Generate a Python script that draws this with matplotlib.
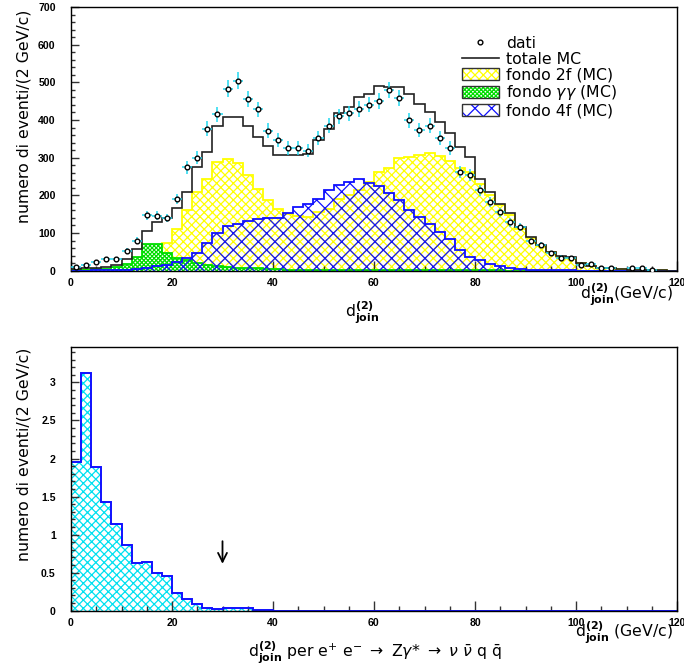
import numpy as np
import matplotlib
matplotlib.use("Agg")
import matplotlib.pyplot as plt
from matplotlib.patches import Patch
from matplotlib.lines import Line2D
from matplotlib.legend_handler import HandlerTuple
from matplotlib.ticker import MultipleLocator

# bins of 2 GeV/c from 0 to 120
edges = np.arange(0, 122, 2)

dati = [11, 15, 23, 30, 32, 53, 80, 147, 146, 140,
        191, 274, 300, 377, 415, 483, 504, 456, 428, 372,
        347, 325, 325, 319, 353, 385, 410, 418, 429, 441,
        451, 480, 458, 399, 374, 385, 353, 326, 263, 253,
        214, 183, 155, 128, 115, 79, 68, 46, 35, 34,
        14, 17, 8, 8, 0, 8, 6, 1, 0, 0]

totale_mc = [4, 7, 8, 10, 16, 30, 58, 106, 130, 140,
             166, 208, 275, 316, 383, 407, 408, 385, 356, 330,
             308, 306, 306, 310, 346, 377, 419, 434, 460, 469,
             490, 488, 488, 469, 443, 421, 394, 365, 328, 302,
             244, 209, 178, 152, 115, 90, 68, 50, 38, 36,
             21, 12, 8, 6, 4, 3, 2, 1, 1, 0]

fondo_2f = [1, 2, 2, 3, 4, 8, 15, 30, 50, 74,
            112, 160, 209, 243, 289, 297, 285, 253, 218, 187,
            165, 150, 145, 143, 155, 165, 190, 200, 215, 235,
            263, 272, 300, 302, 306, 312, 304, 292, 273, 262,
            231, 200, 174, 147, 112, 88, 65, 49, 37, 35,
            20, 13, 8, 6, 4, 3, 2, 1, 1, 0]

fondo_gg = [2, 3, 4, 5, 11, 18, 37, 72, 72, 48,
            33, 28, 21, 16, 12, 10, 8, 7, 6, 5,
            4, 3, 3, 3, 2, 2, 2, 2, 2, 2,
            2, 1, 1, 1, 1, 1, 1, 1, 1, 1,
            1, 1, 1, 0, 0, 0, 0, 0, 0, 0,
            0, 0, 0, 0, 0, 0, 0, 0, 0, 0]

fondo_4f = [0, 0, 1, 1, 2, 3, 5, 8, 12, 15,
            24, 33, 48, 74, 100, 118, 125, 132, 137, 140,
            140, 153, 168, 178, 191, 213, 227, 235, 244, 233,
            224, 205, 187, 162, 143, 124, 103, 83, 55, 36,
            28, 18, 13, 8, 5, 3, 2, 2, 1, 1,
            0, 0, 0, 0, 0, 0, 0, 0, 0, 0]

# signal e+e- -> Z gamma* -> nu nubar q qbar
segnale = [1.95, 3.13, 1.89, 1.43, 1.14, 0.86, 0.63, 0.64, 0.50, 0.46,
           0.23, 0.16, 0.085, 0.03, 0.02, 0.03, 0.03, 0.03, 0.01, 0.005] + [0.0] * 40
taglio = 30.0

YELLOW = "#ffff00"
GREEN = "#00dd00"
BLUE = "#1010ff"
CYAN = "#00e0f0"
ERRC = "#20d8f0"

plt.rcParams["hatch.linewidth"] = 0.9
plt.rcParams["font.family"] = "DejaVu Sans"

fig = plt.figure(figsize=(6.84, 6.70), dpi=100)
W, H = 684.0, 670.0
ax1 = fig.add_axes([71 / W, 1 - 270.7 / H, 606 / W, 263.7 / H])
ax2 = fig.add_axes([71 / W, 1 - 610.7 / H, 606 / W, 264 / H])

# --- top panel: data vs MC ---
ax1.stairs(fondo_2f, edges, fill=True, facecolor="white", edgecolor=YELLOW,
           hatch="xxxx", linewidth=0, zorder=1)
ax1.stairs(fondo_2f, edges, color=YELLOW, linewidth=1.3, zorder=1.1)
ax1.stairs(fondo_gg, edges, fill=True, facecolor="white", edgecolor=GREEN,
           hatch="xxxxxxxx", linewidth=0, zorder=2)
ax1.stairs(fondo_gg, edges, color=GREEN, linewidth=1.3, zorder=2.1)
ax1.stairs(fondo_4f, edges, fill=True, facecolor="none", edgecolor=BLUE,
           hatch="xx", linewidth=0, zorder=3)
ax1.stairs(fondo_4f, edges, color=BLUE, linewidth=1.3, zorder=3.1)
ax1.stairs(totale_mc, edges, color="#222222", linewidth=1.2, zorder=4)

centers = 0.5 * (edges[:-1] + edges[1:])
dati_arr = np.array(dati, dtype=float)
sel = dati_arr > 0
ax1.errorbar(centers[sel], dati_arr[sel], xerr=1.0, yerr=np.sqrt(dati_arr[sel]),
             fmt="o", ms=3.4, mfc="white", mec="black", mew=1.0,
             ecolor=ERRC, elinewidth=1.1, capsize=0, zorder=5)

ax1.set_xlim(0, 120)
ax1.set_ylim(0, 700)
ax1.yaxis.set_major_locator(MultipleLocator(100))
ax1.yaxis.set_minor_locator(MultipleLocator(20))

box = dict(fill=False, edgecolor="#333333", lw=1.0)
handles = [
    Line2D([], [], marker="o", ls="none", ms=3.4, mfc="white", mec="black", mew=1.0),
    Line2D([], [], color="#222222", lw=1.2),
    (Patch(facecolor="white", edgecolor=YELLOW, hatch="xxxx", lw=0), Patch(**box)),
    (Patch(facecolor="white", edgecolor=GREEN, hatch="xxxxxxxx", lw=0), Patch(**box)),
    (Patch(facecolor="white", edgecolor=BLUE, hatch="xx", lw=0), Patch(**box)),
]
labels = ["dati", "totale MC", "fondo 2f (MC)", r"fondo $\gamma\gamma$ (MC)", "fondo 4f (MC)"]
ax1.legend(handles, labels, handler_map={tuple: HandlerTuple(ndivide=1, pad=0)},
           loc="upper left", bbox_to_anchor=(462 / W, 1 - 36 / H),
           bbox_transform=fig.transFigure, frameon=False, fontsize=11.3,
           borderpad=0, borderaxespad=0, labelspacing=0.05,
           handlelength=2.35, handleheight=0.8, handletextpad=0.45)

# --- bottom panel: signal ---
ax2.stairs(segnale, edges, fill=True, facecolor="white", edgecolor=CYAN,
           hatch="xxxx", linewidth=0, zorder=1)
ax2.stairs(segnale, edges, color=BLUE, linewidth=1.4, zorder=2)
ax2.annotate("", xy=(taglio, 0.58), xytext=(taglio, 0.95),
             arrowprops=dict(arrowstyle="->", color="black", lw=1.3,
                             mutation_scale=16))
ax2.set_xlim(0, 120)
ax2.set_ylim(0, 3.47)
ax2.yaxis.set_major_locator(MultipleLocator(0.5))
ax2.yaxis.set_minor_locator(MultipleLocator(0.1))
ax2.set_yticks([0, 0.5, 1, 1.5, 2, 2.5, 3])
ax2.set_yticklabels(["0", "0.5", "1", "1.5", "2", "2.5", "3"])

for ax in (ax1, ax2):
    ax.xaxis.set_major_locator(MultipleLocator(20))
    ax.xaxis.set_minor_locator(MultipleLocator(5))
    ax.tick_params(which="both", direction="in", top=False, right=False,
                   width=1.0, color="#333333")
    ax.tick_params(axis="x", which="major", length=7, pad=5)
    ax.tick_params(axis="x", which="minor", length=3.5)
    ax.tick_params(axis="y", which="major", length=6, pad=11)
    ax.tick_params(axis="y", which="minor", length=3)
    for lab in ax.get_xticklabels() + ax.get_yticklabels():
        lab.set_fontfamily("Liberation Sans")
        lab.set_fontweight("bold")
        lab.set_fontsize(7.6)
    for sp in ax.spines.values():
        sp.set_linewidth(1.0)

ylab = "numero di eventi/(2 GeV/c)"
fig.text(24 / W, 1 - 10 / H, ylab, rotation=90, ha="center", va="top", fontsize=11.3)
fig.text(24 / W, 1 - 348 / H, ylab, rotation=90, ha="center", va="top", fontsize=11.3)

djoin = r"d$^{\mathbf{(2)}}_{\mathbf{join}}$"
fig.text(673 / W, 1 - 299 / H, djoin + "(GeV/c)", ha="right", va="baseline", fontsize=11.3)
fig.text(362 / W, 1 - 318 / H, djoin, ha="center", va="baseline", fontsize=11.3)
fig.text(673 / W, 1 - 637 / H, djoin + " (GeV/c)", ha="right", va="baseline", fontsize=11.3)
fig.text(375 / W, 1 - 658 / H,
         djoin + r" per e$^{+}$ e$^{-}$ $\rightarrow$ Z$\gamma$* $\rightarrow$ "
         r"$\nu$ $\bar{\nu}$ q $\bar{\mathrm{q}}$",
         ha="center", va="baseline", fontsize=11.3)

fig.savefig("out.png", dpi=100)
